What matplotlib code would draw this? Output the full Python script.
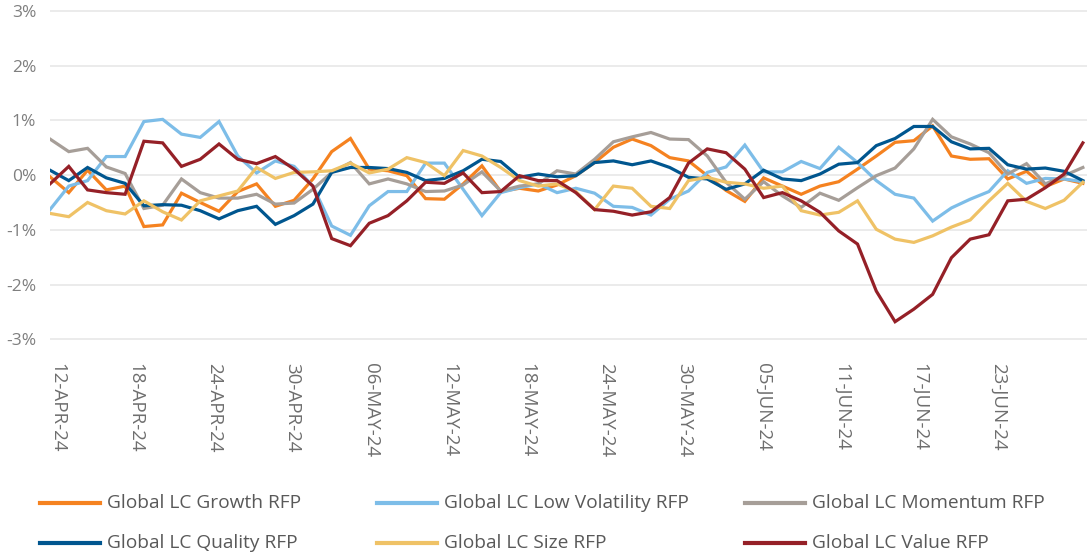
import numpy as np
import pandas as pd
import matplotlib
matplotlib.use("Agg")
import matplotlib.pyplot as plt
import matplotlib.dates as mdates
import matplotlib.transforms as mtransforms
from matplotlib.lines import Line2D

plt.rcParams['font.family'] = ['Open Sans', 'DejaVu Sans']

# 56 observations, evenly spaced between the first and last date
dates = pd.date_range('2024-04-12', '2024-06-30', periods=56)
tick_dates = pd.date_range('2024-04-12', periods=13, freq='6D')

growth = [-0.03, -0.32, 0.09, -0.27, -0.20, -0.94, -0.91, -0.33, -0.50, -0.66,
          -0.30, -0.16, -0.57, -0.46, -0.07, 0.43, 0.67, 0.11, 0.08, -0.01,
          -0.43, -0.44, -0.16, 0.17, -0.30, -0.24, -0.29, -0.18, -0.01, 0.23,
          0.51, 0.66, 0.54, 0.32, 0.26, -0.01, -0.28, -0.48, -0.05, -0.20,
          -0.35, -0.20, -0.12, 0.11, 0.35, 0.60, 0.63, 0.90, 0.35, 0.29,
          0.30, -0.07, 0.07, -0.21, -0.07, -0.15]
low_vol = [-0.63, -0.20, -0.10, 0.34, 0.34, 0.98, 1.02, 0.75, 0.69, 0.98,
           0.35, 0.04, 0.26, 0.16, -0.20, -0.93, -1.10, -0.56, -0.30, -0.30,
           0.22, 0.22, -0.26, -0.74, -0.32, -0.23, -0.16, -0.32, -0.24, -0.33,
           -0.57, -0.59, -0.73, -0.44, -0.29, 0.05, 0.15, 0.55, 0.06, 0.06,
           0.25, 0.12, 0.51, 0.23, -0.10, -0.35, -0.42, -0.84, -0.60, -0.44,
           -0.30, 0.08, -0.15, -0.06, -0.07, -0.12]
momentum = [0.66, 0.43, 0.49, 0.15, 0.03, -0.61, -0.55, -0.07, -0.32, -0.42,
            -0.42, -0.35, -0.53, -0.51, -0.26, 0.05, 0.23, -0.16, -0.07, -0.16,
            -0.30, -0.29, -0.18, 0.06, -0.29, -0.20, -0.16, 0.08, 0.02, 0.29,
            0.61, 0.70, 0.78, 0.66, 0.65, 0.35, -0.13, -0.44, -0.12, -0.38,
            -0.59, -0.33, -0.46, -0.23, -0.01, 0.13, 0.48, 1.02, 0.70, 0.57,
            0.41, 0.02, 0.21, -0.16, -0.01, 0.14]
quality = [0.09, -0.10, 0.14, -0.05, -0.15, -0.56, -0.54, -0.55, -0.65, -0.80,
           -0.65, -0.57, -0.90, -0.74, -0.53, 0.05, 0.14, 0.14, 0.12, 0.05,
           -0.10, -0.06, 0.08, 0.29, 0.25, -0.04, 0.02, -0.03, -0.01, 0.23,
           0.26, 0.19, 0.26, 0.14, -0.04, -0.07, -0.26, -0.16, 0.09, -0.07,
           -0.10, 0.02, 0.20, 0.23, 0.54, 0.67, 0.89, 0.89, 0.61, 0.48,
           0.49, 0.19, 0.11, 0.13, 0.07, -0.10]
size = [-0.70, -0.76, -0.50, -0.65, -0.71, -0.47, -0.67, -0.82, -0.47, -0.38,
        -0.29, 0.14, -0.06, 0.05, 0.06, 0.08, 0.22, 0.04, 0.11, 0.32,
        0.23, -0.01, 0.45, 0.35, 0.14, -0.10, -0.20, -0.16, -0.30, -0.63,
        -0.20, -0.24, -0.57, -0.61, -0.10, -0.04, -0.13, -0.16, -0.24, -0.20,
        -0.65, -0.73, -0.68, -0.47, -0.99, -1.17, -1.23, -1.11, -0.95, -0.82,
        -0.47, -0.15, -0.48, -0.61, -0.46, -0.13]
value = [-0.16, 0.16, -0.27, -0.32, -0.35, 0.62, 0.59, 0.16, 0.29, 0.57,
         0.29, 0.21, 0.34, 0.11, -0.20, -1.16, -1.29, -0.88, -0.74, -0.47,
         -0.13, -0.15, 0.04, -0.32, -0.30, -0.01, -0.10, -0.10, -0.32, -0.63,
         -0.66, -0.73, -0.67, -0.41, 0.22, 0.48, 0.41, 0.11, -0.41, -0.32,
         -0.47, -0.68, -1.02, -1.26, -2.12, -2.68, -2.45, -2.18, -1.51, -1.17,
         -1.09, -0.47, -0.44, -0.23, 0.02, 0.59]

names = ['Global LC Growth RFP', 'Global LC Low Volatility RFP', 'Global LC Momentum RFP',
         'Global LC Quality RFP', 'Global LC Size RFP', 'Global LC Value RFP']
series = [growth, low_vol, momentum, quality, size, value]
colors = ['#F58220', '#7DBDE8', '#A69E98', '#00568F', '#EFC266', '#952027']
# drawing order (back to front)
order = [4, 2, 1, 0, 3, 5]

fig = plt.figure(figsize=(10.87, 5.56), dpi=100)
ax = fig.add_axes([50 / 1087, 0.385, 1037 / 1087, 0.600])

for k in order:
    ax.plot(dates, series[k], color=colors[k], lw=2.3, solid_joinstyle='miter', zorder=3 + k * 0.1)

ax.set_ylim(-3.05, 3.05)
ax.set_yticks([3, 2, 1, 0, -1, -2, -3])
ax.set_yticklabels(['3%', '2%', '1%', '0%', '-1%', '-2%', '-3%'])
span = dates[-1] - dates[0]
ax.set_xlim(dates[0], dates[-1] + span * 0.004)
ax.set_xticks(tick_dates)
ax.set_xticklabels([d.strftime('%d-%b-%y').upper() for d in tick_dates], rotation=270)

ax.grid(axis='y', color='#EBEBEB', lw=1.4, zorder=0)
ax.grid(axis='x', visible=False)
for s in ax.spines.values():
    s.set_visible(False)
ax.tick_params(axis='y', length=0, pad=10, labelsize=12.5, labelcolor='#7F7F7F')
ax.tick_params(axis='x', length=0, pad=15, labelsize=13.5, labelcolor='#6E6E6E')

offset = mtransforms.ScaledTranslation(7 / 100, 0, fig.dpi_scale_trans)
for lab in ax.get_xticklabels():
    lab.set_transform(lab.get_transform() + offset)
    lab.set_va('top')

# legend, drawn by hand: 2 rows x 3 columns
col_x = [40, 377, 745]
row_y = [503, 543]
for k, name in enumerate(names):
    cx = col_x[k % 3]
    cy = row_y[k // 3]
    fig.add_artist(Line2D([cx / 1087, (cx + 60) / 1087], [1 - cy / 556, 1 - cy / 556],
                          color=colors[k], lw=3, transform=fig.transFigure))
    fig.text((cx + 67) / 1087, 1 - cy / 556, name, fontsize=13.8, color='#595959',
             va='center', ha='left')

fig.savefig('out.png', dpi=100)
